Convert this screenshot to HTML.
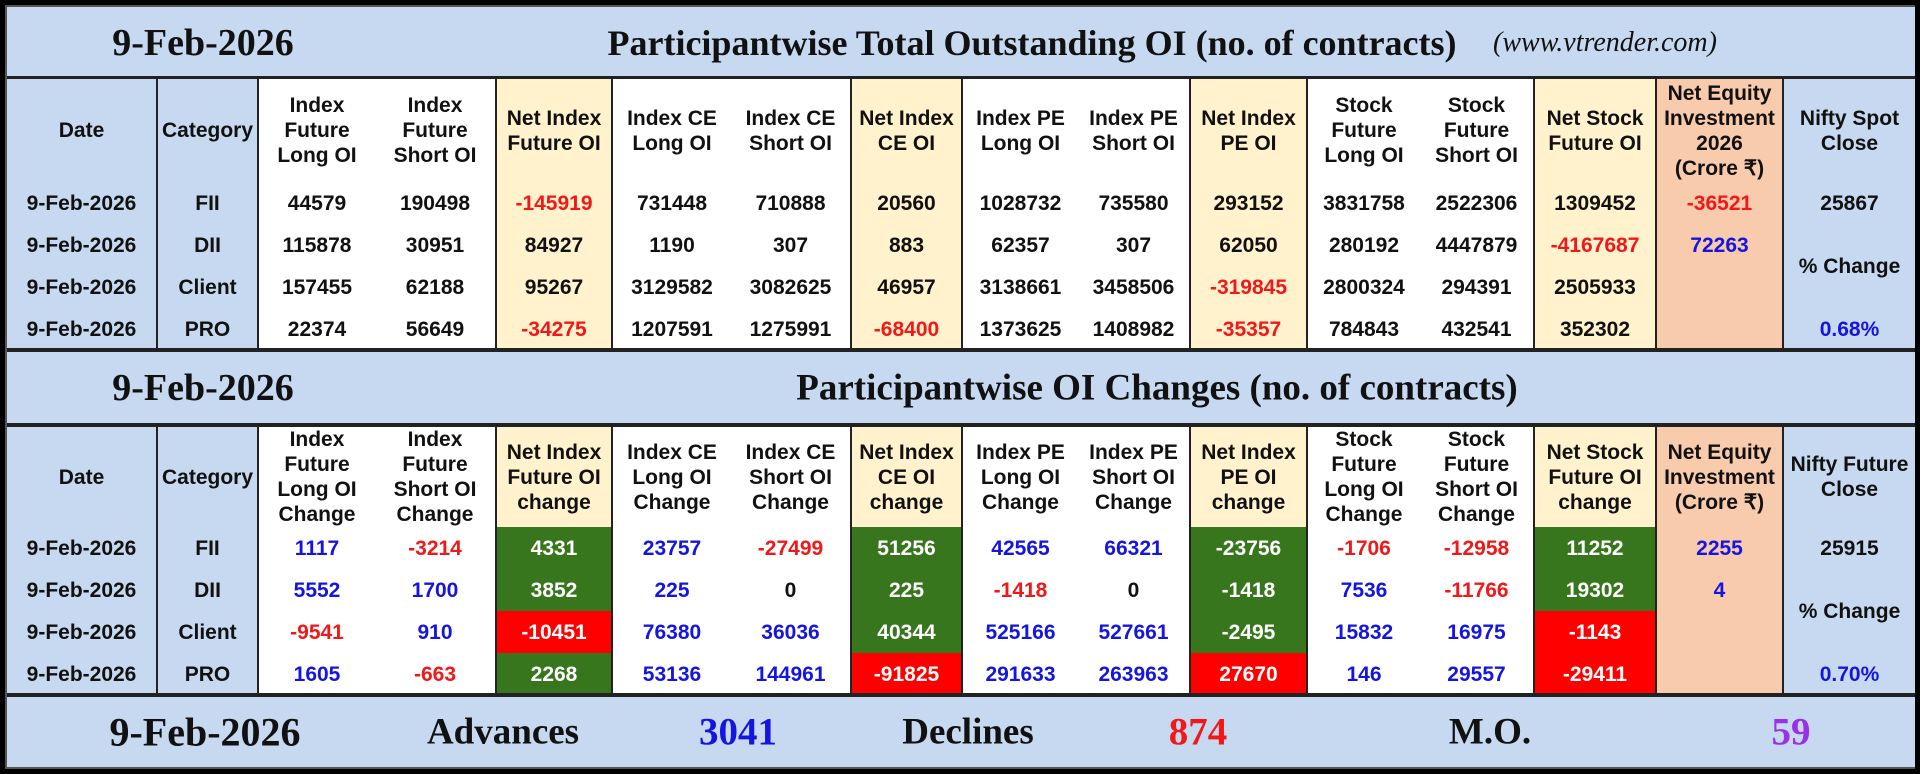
<!DOCTYPE html>
<html><head><meta charset="utf-8"><style>
*{margin:0;padding:0;box-sizing:border-box}
body{width:1920px;height:774px;background:#000;position:relative;overflow:hidden;font-family:"Liberation Sans",Arial,sans-serif}
.frame{position:absolute;left:5px;top:5px;width:1910px;height:764px;background:#c6d9f1;border:2px solid #555}
.band{position:absolute;left:7px;width:1908px;background:#c6d9f1;font-family:"Liberation Serif",serif;font-weight:bold;color:#111}
.band span{position:absolute;top:50%;transform:translate(-50%,-50%);white-space:nowrap}
table{position:absolute;left:7px;border-collapse:collapse;table-layout:fixed;width:1908px;font-weight:bold;font-size:21px;color:#111}
td{text-align:center;vertical-align:middle;padding:0;line-height:25px;white-space:nowrap;overflow:hidden}
.b{background:#c6d9f1}.w{background:#fff}.c{background:#fff2cc}.o{background:#f8cbad}
.L{border-left:2px solid #222}
.g{background:#38761d;color:#fff}.r{background:#f00;color:#fff}
.bl{color:#1515e0}.rd{color:#f01818}
.sep{position:absolute;left:7px;width:1908px;height:4px;background:#222}
</style></head><body>
<div class="frame"></div>
<div class="band" style="top:7px;height:71px">
<span style="left:196px;font-size:38px">9-Feb-2026</span>
<span style="left:1025px;font-size:36px">Participantwise Total Outstanding OI (no. of contracts)</span>
<span style="left:1598px;font-size:28px;font-weight:normal;font-style:italic">(www.vtrender.com)</span>
</div>
<div class="sep" style="top:76px"></div>
<table style="top:79px;height:270px">
<colgroup><col style="width:150px"><col style="width:101px"><col style="width:117px"><col style="width:121px"><col style="width:116px"><col style="width:119px"><col style="width:120px"><col style="width:111px"><col style="width:116px"><col style="width:112px"><col style="width:117px"><col style="width:113px"><col style="width:114px"><col style="width:122px"><col style="width:127px"><col style="width:132px"></colgroup>
<tr style="height:103px">
<td class="b">Date</td><td class="b L">Category</td><td class="w L">Index<br>Future<br>Long OI</td><td class="w">Index<br>Future<br>Short OI</td><td class="c L">Net Index<br>Future OI</td><td class="w L">Index CE<br>Long OI</td><td class="w">Index CE<br>Short OI</td><td class="c L">Net Index<br>CE OI</td><td class="w L">Index PE<br>Long OI</td><td class="w">Index PE<br>Short OI</td><td class="c L">Net Index<br>PE OI</td><td class="w L">Stock<br>Future<br>Long OI</td><td class="w">Stock<br>Future<br>Short OI</td><td class="c L">Net Stock<br>Future OI</td><td class="o L">Net Equity<br>Investment<br>2026<br>(Crore ₹)</td><td class="b L">Nifty Spot<br>Close</td></tr>
<tr style="height:42px"><td class="b">9-Feb-2026</td><td class="b L">FII</td><td class="w L">44579</td><td class="w">190498</td><td class="c L rd">-145919</td><td class="w L">731448</td><td class="w">710888</td><td class="c L">20560</td><td class="w L">1028732</td><td class="w">735580</td><td class="c L">293152</td><td class="w L">3831758</td><td class="w">2522306</td><td class="c L">1309452</td><td class="o L rd">-36521</td><td class="b L">25867</td></tr>
<tr style="height:42px"><td class="b">9-Feb-2026</td><td class="b L">DII</td><td class="w L">115878</td><td class="w">30951</td><td class="c L">84927</td><td class="w L">1190</td><td class="w">307</td><td class="c L">883</td><td class="w L">62357</td><td class="w">307</td><td class="c L">62050</td><td class="w L">280192</td><td class="w">4447879</td><td class="c L rd">-4167687</td><td class="o L bl">72263</td><td class="b L" rowspan="2">% Change</td></tr>
<tr style="height:42px"><td class="b">9-Feb-2026</td><td class="b L">Client</td><td class="w L">157455</td><td class="w">62188</td><td class="c L">95267</td><td class="w L">3129582</td><td class="w">3082625</td><td class="c L">46957</td><td class="w L">3138661</td><td class="w">3458506</td><td class="c L rd">-319845</td><td class="w L">2800324</td><td class="w">294391</td><td class="c L">2505933</td><td class="o L"></td></tr>
<tr style="height:42px"><td class="b">9-Feb-2026</td><td class="b L">PRO</td><td class="w L">22374</td><td class="w">56649</td><td class="c L rd">-34275</td><td class="w L">1207591</td><td class="w">1275991</td><td class="c L rd">-68400</td><td class="w L">1373625</td><td class="w">1408982</td><td class="c L rd">-35357</td><td class="w L">784843</td><td class="w">432541</td><td class="c L">352302</td><td class="o L"></td><td class="b L bl">0.68%</td></tr>
</table>
<div class="sep" style="top:348px"></div>
<div class="band" style="top:352px;height:72px">
<span style="left:196px;font-size:38px">9-Feb-2026</span>
<span style="left:1150px;font-size:37px">Participantwise OI Changes (no. of contracts)</span>
</div>
<div class="sep" style="top:423px"></div>
<table style="top:427px;height:267px">
<colgroup><col style="width:150px"><col style="width:101px"><col style="width:117px"><col style="width:121px"><col style="width:116px"><col style="width:119px"><col style="width:120px"><col style="width:111px"><col style="width:116px"><col style="width:112px"><col style="width:117px"><col style="width:113px"><col style="width:114px"><col style="width:122px"><col style="width:127px"><col style="width:132px"></colgroup>
<tr style="height:99px">
<td class="b">Date</td><td class="b L">Category</td><td class="w L">Index<br>Future<br>Long OI<br>Change</td><td class="w">Index<br>Future<br>Short OI<br>Change</td><td class="c L">Net Index<br>Future OI<br>change</td><td class="w L">Index CE<br>Long OI<br>Change</td><td class="w">Index CE<br>Short OI<br>Change</td><td class="c L">Net Index<br>CE OI<br>change</td><td class="w L">Index PE<br>Long OI<br>Change</td><td class="w">Index PE<br>Short OI<br>Change</td><td class="c L">Net Index<br>PE OI<br>change</td><td class="w L">Stock<br>Future<br>Long OI<br>Change</td><td class="w">Stock<br>Future<br>Short OI<br>Change</td><td class="c L">Net Stock<br>Future OI<br>change</td><td class="o L">Net Equity<br>Investment<br>(Crore ₹)</td><td class="b L">Nifty Future<br>Close</td></tr>
<tr style="height:42px"><td class="b">9-Feb-2026</td><td class="b L">FII</td><td class="w L bl">1117</td><td class="w rd">-3214</td><td class="g L">4331</td><td class="w L bl">23757</td><td class="w rd">-27499</td><td class="g L">51256</td><td class="w L bl">42565</td><td class="w bl">66321</td><td class="g L">-23756</td><td class="w L rd">-1706</td><td class="w rd">-12958</td><td class="g L">11252</td><td class="o L bl">2255</td><td class="b L">25915</td></tr>
<tr style="height:42px"><td class="b">9-Feb-2026</td><td class="b L">DII</td><td class="w L bl">5552</td><td class="w bl">1700</td><td class="g L">3852</td><td class="w L bl">225</td><td class="w">0</td><td class="g L">225</td><td class="w L rd">-1418</td><td class="w">0</td><td class="g L">-1418</td><td class="w L bl">7536</td><td class="w rd">-11766</td><td class="g L">19302</td><td class="o L bl">4</td><td class="b L" rowspan="2">% Change</td></tr>
<tr style="height:42px"><td class="b">9-Feb-2026</td><td class="b L">Client</td><td class="w L rd">-9541</td><td class="w bl">910</td><td class="r L">-10451</td><td class="w L bl">76380</td><td class="w bl">36036</td><td class="g L">40344</td><td class="w L bl">525166</td><td class="w bl">527661</td><td class="g L">-2495</td><td class="w L bl">15832</td><td class="w bl">16975</td><td class="r L">-1143</td><td class="o L"></td></tr>
<tr style="height:42px"><td class="b">9-Feb-2026</td><td class="b L">PRO</td><td class="w L bl">1605</td><td class="w rd">-663</td><td class="g L">2268</td><td class="w L bl">53136</td><td class="w bl">144961</td><td class="r L">-91825</td><td class="w L bl">291633</td><td class="w bl">263963</td><td class="r L">27670</td><td class="w L bl">146</td><td class="w bl">29557</td><td class="r L">-29411</td><td class="o L"></td><td class="b L bl">0.70%</td></tr>
</table>
<div class="sep" style="top:693px"></div>
<div class="band" style="top:697px;height:70px">
<span style="left:198px;font-size:40px">9-Feb-2026</span>
<span style="left:496px;font-size:37px">Advances</span>
<span style="left:731px;font-size:39px;color:#1515e0">3041</span>
<span style="left:961px;font-size:37px">Declines</span>
<span style="left:1191px;font-size:39px;color:#f01818">874</span>
<span style="left:1483px;font-size:37px">M.O.</span>
<span style="left:1784px;font-size:39px;color:#9a30e8">59</span>
</div>
</body></html>
